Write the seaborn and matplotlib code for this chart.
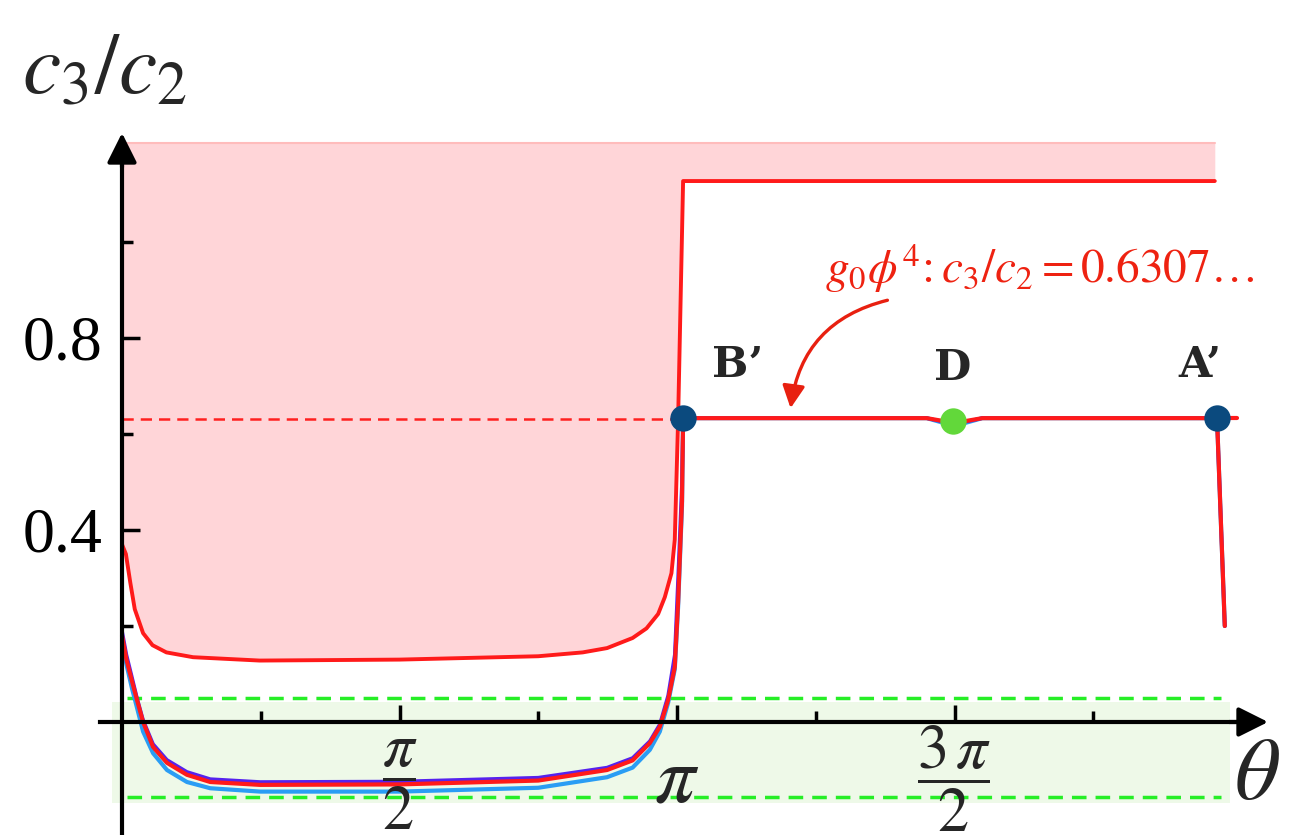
import seaborn as sns
import matplotlib.pyplot as plt

# theta is stored in units of pi
upper_theta = [0, 0.007, 0.015, 0.023, 0.038, 0.055, 0.08, 0.128, 0.248, 0.5, 0.75, 0.83, 0.874, 0.92,
               0.945, 0.966, 0.978, 0.99, 0.996, 1.002, 1.011, 1.969]
upper_ratio = [0.37, 0.35, 0.29, 0.235, 0.185, 0.16, 0.145, 0.135, 0.128, 0.13, 0.137, 0.145, 0.154, 0.175,
               0.195, 0.225, 0.26, 0.31, 0.38, 0.63, 1.127, 1.127]

lower_theta = [0, 0.008, 0.018, 0.027, 0.038, 0.056, 0.081, 0.117, 0.159, 0.249, 0.5, 0.75,
               0.874, 0.92, 0.951, 0.969, 0.984, 0.996, 1.002, 1.009, 1.011,
               1.45, 1.49, 1.5, 1.51, 1.55, 1.973, 1.987]
red_ratio = [0.18, 0.13, 0.085, 0.046, 0.0, -0.052, -0.085, -0.11, -0.125, -0.131, -0.13, -0.122,
             -0.10, -0.08, -0.044, -0.01, 0.046, 0.115, 0.25, 0.46, 0.633,
             0.633, 0.625, 0.622, 0.625, 0.633, 0.633, 0.2]
purple_ratio = [0.19, 0.14, 0.093, 0.05, 0.004, -0.046, -0.079, -0.104, -0.119, -0.125, -0.124, -0.116,
                -0.095, -0.075, -0.04, -0.005, 0.055, 0.14, 0.3, 0.5, 0.633,
                0.633, 0.623, 0.62, 0.623, 0.633, 0.633, 0.2]
blue_ratio = [0.17, 0.12, 0.07, 0.03, -0.02, -0.065, -0.1, -0.125, -0.138, -0.145, -0.145, -0.137,
              -0.115, -0.095, -0.058, -0.02, 0.04, 0.11, 0.24, 0.45, 0.633,
              0.633, 0.62, 0.615, 0.62, 0.633, 0.633, 0.2]
tail_theta = [1.973, 2.009]
tail_ratio = [0.633, 0.633]

phi4_ratio = 0.6307
green_band = [-0.169, 0.042]
green_lines = [0.05, -0.156]
pink_top = 1.206

points = {"B\u2019": (1.011, 0.633), "D": (1.497, 0.627), "A\u2019": (1.973, 0.633)}
point_colors = {"B\u2019": "#0b4a7e", "D": "#62d83a", "A\u2019": "#0b4a7e"}
label_shift = {"B\u2019": 0.098, "D": 0.0, "A\u2019": -0.03}

sns.set_theme(style="white")
plt.rcParams["mathtext.fontset"] = "stix"
plt.rcParams["font.family"] = ["Liberation Serif", "DejaVu Serif"]

fig = plt.figure(figsize=(12.96, 8.35), dpi=100)
ax = fig.add_axes([0, 0, 1, 1])
ax.set_xlim(-122 / 555, (1296 - 122) / 555)
ax.set_ylim(-113 / 480, 722 / 480)

# shaded regions
ax.fill_between([-0.018, 1.996], green_band[0], green_band[1], color="#eef9e8", lw=0, zorder=0)
ax.fill_between(upper_theta, upper_ratio, pink_top, color="#ffd5d8", lw=0, zorder=0)
ax.plot([0, upper_theta[-1]], [pink_top, pink_top], color="#ffbcbc", lw=1.5, zorder=0.5)

for yv in green_lines:
    ax.plot([0.009, 1.98], [yv, yv], color="#26ee26", lw=2.5, ls=(0, (4.2, 2.6)), zorder=1)
ax.plot([0, 1.0], [phi4_ratio, phi4_ratio], color="#ff2020", lw=1.8, ls=(0, (4.5, 2.8)), zorder=1)

# curves
sns.lineplot(x=lower_theta, y=blue_ratio, ax=ax, color="#2a9df4",
             lw=3, sort=False, estimator=None, zorder=2)
sns.lineplot(x=lower_theta, y=purple_ratio, ax=ax, color="#5522ee",
             lw=2.6, sort=False, estimator=None, zorder=2.1)
sns.lineplot(x=lower_theta, y=red_ratio, ax=ax, color="#ff1a1a",
             lw=3, sort=False, estimator=None, zorder=2.2)
sns.lineplot(x=tail_theta, y=tail_ratio, ax=ax, color="#ff1a1a",
             lw=3, sort=False, estimator=None, zorder=2.2)
sns.lineplot(x=upper_theta, y=upper_ratio, ax=ax, color="#ff1a1a",
             lw=2.8, sort=False, estimator=None, zorder=2.2)

for name, (tx, ty) in points.items():
    ax.plot(tx, ty, "o", ms=19, color=point_colors[name], mec="none", zorder=4)
    ax.text(tx + label_shift[name], ty + 0.11, name, ha="center", va="center",
            fontsize=31, fontweight="bold", family=["DejaVu Serif"], zorder=5)

# g0 phi^4 annotation
ax.annotate("", xy=(1.204, 0.648), xytext=(1.384, 0.88),
            arrowprops=dict(arrowstyle="-|>", color="#e82010", lw=2.4, mutation_scale=34,
                            connectionstyle="arc3,rad=0.35"), zorder=5)
fig.text(1040 / 1296, 1 - 268 / 835, r"$g_0\phi^4\!: c_3/c_2 = 0.6307\ldots$",
         ha="center", va="center", fontsize=34, color="#ee2211")

# axes with arrows
for side in ["top", "right"]:
    ax.spines[side].set_visible(False)
ax.spines["left"].set_position(("data", 0))
ax.spines["bottom"].set_position(("data", 0))
ax.spines["left"].set_bounds(-113 / 480, 1.17)
ax.spines["bottom"].set_bounds(-0.04, 2.01)
for side in ["left", "bottom"]:
    ax.spines[side].set_linewidth(3)
    ax.spines[side].set_color("black")
    ax.spines[side].set_zorder(3)
ax.annotate("", xy=(0, 1.233), xytext=(0, 1.15),
            arrowprops=dict(arrowstyle="-|>", color="black", lw=3, mutation_scale=45))
ax.annotate("", xy=(2.07, 0), xytext=(1.99, 0),
            arrowprops=dict(arrowstyle="-|>", color="black", lw=3, mutation_scale=45))

ax.set_yticks([0.4, 0.8])
ax.set_yticklabels(["0.4", "0.8"])
ax.set_yticks([0.2, 0.6, 1.0], minor=True)
ax.set_xticks([0.5, 1.0, 1.5])
ax.set_xticklabels([])
ax.set_xticks([0.25, 0.75, 1.25, 1.75], minor=True)
ax.tick_params(axis="y", which="major", direction="in", length=13, width=2.5, labelsize=46, pad=14)
ax.tick_params(axis="y", which="minor", direction="in", length=8, width=2.5)
ax.tick_params(axis="x", which="major", direction="in", length=12, width=2.5)
ax.tick_params(axis="x", which="minor", direction="in", length=8, width=2.5)
ax.tick_params(left=True, bottom=True, which="both", colors="black")

# x tick labels placed by hand so the fraction bars sit where the reference has them
x_label_pos = [0.5, 1.0, 1.5]
x_label_txt = [r"$\dfrac{\pi}{2}$", r"$\pi$", r"$\dfrac{3\,\pi}{2}$"]
x_label_size = [45, 58, 45]
x_label_y = [-0.13, -0.125, -0.118]
for xp, txt, fs, yp in zip(x_label_pos, x_label_txt, x_label_size, x_label_y):
    ax.text(xp, yp, txt, ha="center", va="center", fontsize=fs)

fig.text(22 / 1296, 1 - 72 / 835, r"$c_3/c_2$", ha="left", va="center", fontsize=62)
fig.text(1257 / 1296, 1 - 778 / 835, r"$\theta$", ha="center", va="center", fontsize=64)

fig.savefig("out.png", dpi=100)
